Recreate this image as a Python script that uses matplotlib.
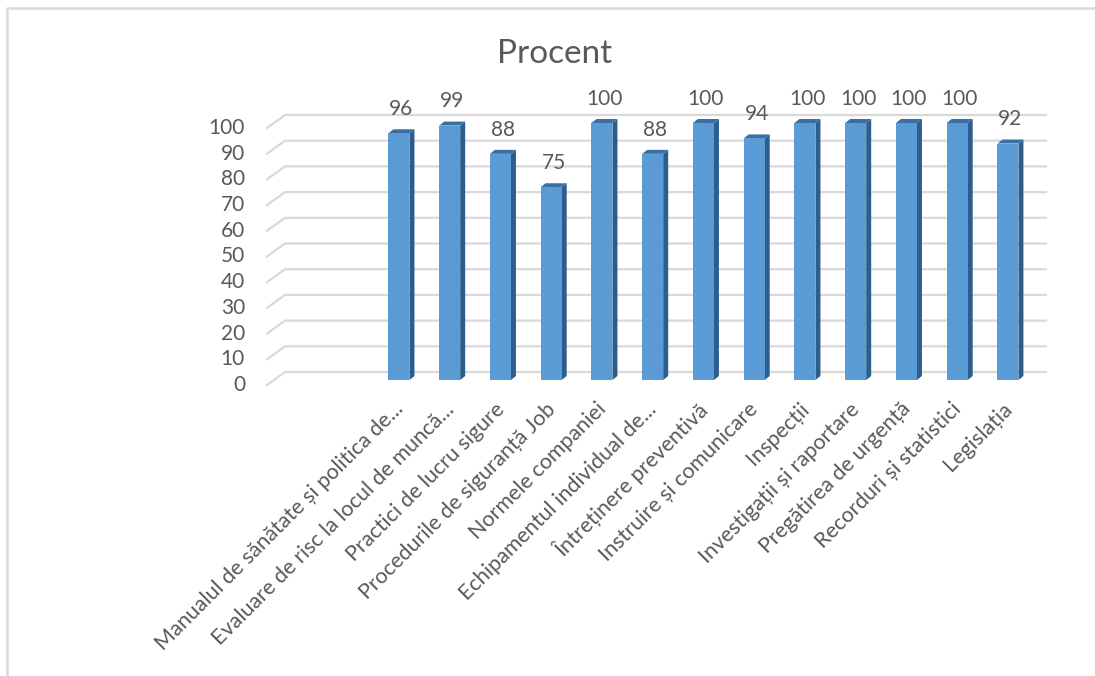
import matplotlib
matplotlib.use("Agg")
import matplotlib.pyplot as plt
from matplotlib.patches import Polygon
from matplotlib.lines import Line2D
from matplotlib.transforms import ScaledTranslation, IdentityTransform

categories = [
    "Manualul de sănătate și politica de...",
    "Evaluare de risc la locul de muncă...",
    "Practici de lucru sigure",
    "Procedurile de siguranță Job",
    "Normele companiei",
    "Echipamentul individual de...",
    "Întreținere preventivă",
    "Instruire și comunicare",
    "Inspecții",
    "Investigații și raportare",
    "Pregătirea de urgență",
    "Recorduri și statistici",
    "Legislația",
]
values = [96, 99, 88, 75, 100, 88, 100, 94, 100, 100, 100, 100, 92]
yticks = list(range(0, 101, 10))
title = "Procent"

FONT = ["Lato", "DejaVu Sans"]
TXT = "#595959"
GRID = "#D9D9D9"
FRONT = "#5B9BD5"
SIDE = "#2B5E8C"
TOP = "#3A6FA3"

W, H = 1095, 676
fig = plt.figure(figsize=(W / 100, H / 100), dpi=100)
fig.patch.set_facecolor("white")

L, R, Y0, Y100 = 267, 1046, 380, 123
ax = fig.add_axes([L / W, 1 - Y0 / H, (R - L) / W, (Y0 - Y100) / H])
ax.set_xlim(-2.60, 12.75)
ax.set_ylim(0, 100)
ax.axis("off")

px_x = (R - L) / (12.75 + 2.60)
px_y = (Y0 - Y100) / 100.0
w = 21 / px_x
ddx = 5 / px_x
ddy = 4 / px_y

# grid (back wall + floor diagonal)
base = ax.get_yaxis_transform()
depth_frac = 18 / (R - L)
for v in yticks:
    a = base.transform((0, v)); a[1] -= 5
    b = base.transform((depth_frac, v)); b[1] += 8
    c = base.transform((1, v)); c[1] += 8
    ax.add_line(Line2D([a[0], b[0], c[0]], [a[1], b[1], c[1]],
                       transform=IdentityTransform(), color=GRID, lw=1.6,
                       zorder=0.5, clip_on=False))

# y tick labels
off_y = ScaledTranslation(0, -5 / 100, fig.dpi_scale_trans)
for v in yticks:
    ax.text(-22 / (R - L), v, str(v), transform=base + off_y, ha="right",
            va="center", fontsize=15, color=TXT, family=FONT)

xs = list(range(len(categories)))
ax.bar(xs, values, width=w, color=FRONT, zorder=3, clip_on=False)
for x, v in zip(xs, values):
    side = [(x + w / 2, 0), (x + w / 2 + ddx, ddy), (x + w / 2 + ddx, v + ddy), (x + w / 2, v)]
    top = [(x - w / 2, v), (x - w / 2 + ddx, v + ddy), (x + w / 2 + ddx, v + ddy), (x + w / 2, v)]
    ax.add_patch(Polygon(side, closed=True, facecolor=SIDE, edgecolor="none", zorder=2, clip_on=False))
    ax.add_patch(Polygon(top, closed=True, facecolor=TOP, edgecolor="none", zorder=2, clip_on=False))
    ax.annotate(str(v), (x + ddx / 2, v), xytext=(0, 17.5), textcoords="offset points",
                ha="center", va="center", fontsize=15, color=TXT, family=FONT,
                annotation_clip=False, zorder=5)

off_x = ScaledTranslation(1 / 100, -26 / 100, fig.dpi_scale_trans)
for x, lab in zip(xs, categories):
    ax.text(x, 0, lab, transform=ax.transData + off_x, rotation=45,
            rotation_mode="anchor", ha="right", va="center", fontsize=15.5,
            color=TXT, family=FONT)

fig.text(555 / W, 1 - 63 / H, title, ha="center", va="baseline", fontsize=24,
         color=TXT, family=FONT)

# chart border
fig.add_artist(Line2D([7 / W, 7 / W, 1], [0, 1 - 8 / H, 1 - 8 / H],
                      transform=fig.transFigure, color=GRID, lw=1.8))

fig.savefig("out.png", dpi=100, facecolor="white")
